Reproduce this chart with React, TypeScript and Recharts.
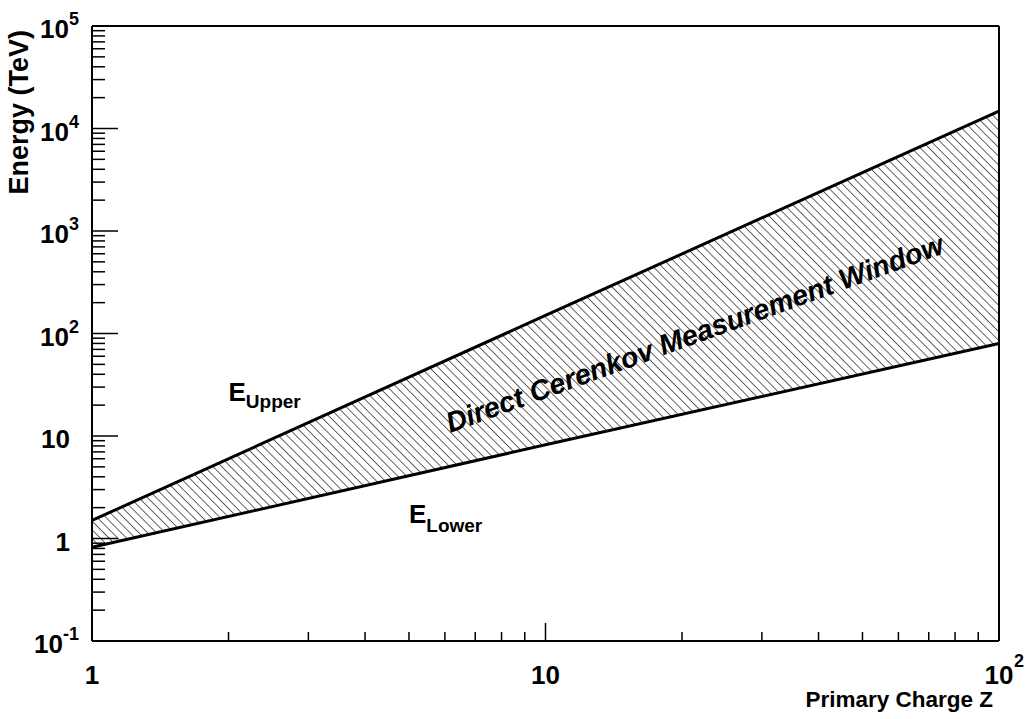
import { ComposedChart, Area, Line, XAxis, YAxis, ReferenceDot } from 'recharts'

// primary charge Z and the two energy limits (TeV)
const charge = [1, 10, 100]
const eUpper = [1.5, 150, 14800]
const eLower = [0.82, 8.2, 80]

const xMajor = [1, 10, 100]
const xMinor = [2, 3, 4, 5, 6, 7, 8, 9, 20, 30, 40, 50, 60, 70, 80, 90]
const xLabels = ['1', '10', '10^2']

const yMajor = [0.1, 1, 10, 100, 1000, 10000, 100000]
const yMinor = [
  0.2, 0.3, 0.4, 0.5, 0.6, 0.7, 0.8, 0.9,
  2, 3, 4, 5, 6, 7, 8, 9,
  20, 30, 40, 50, 60, 70, 80, 90,
  200, 300, 400, 500, 600, 700, 800, 900,
  2000, 3000, 4000, 5000, 6000, 7000, 8000, 9000,
  20000, 30000, 40000, 50000, 60000, 70000, 80000, 90000,
]
const yLabels = ['10^-1', '1', '10', '10^2', '10^3', '10^4', '10^5']

const data = charge.map((z, i) => ({
  z,
  upper: eUpper[i],
  lower: eLower[i],
  band: [eLower[i], eUpper[i]],
}))

const FONT = '"Liberation Sans", Arial, Helvetica, sans-serif'
const W = 1029
const H = 719

function XLabel({ x, y, text }: { x: number; y: number; text: string }) {
  const [base, exp] = text.split('^')
  return (
    <g fontFamily={FONT} fontWeight="bold" fill="#000">
      <text x={x} y={y} textAnchor="middle" fontSize={26}>{base}</text>
      {exp && <text x={x + 15} y={y - 17} fontSize={18}>{exp}</text>}
    </g>
  )
}

function YLabel({ x, y, text }: { x: number; y: number; text: string }) {
  const [base, exp] = text.split('^')
  if (!exp) {
    return (
      <text x={x - 22} y={y + 12} textAnchor="end" fontFamily={FONT} fontWeight="bold" fontSize={26} fill="#000">
        {base}
      </text>
    )
  }
  return (
    <text x={x - 13} y={y + 12} textAnchor="end" fontFamily={FONT} fontWeight="bold" fontSize={26} fill="#000">
      <tspan>{base}</tspan>
      <tspan dy={-13} fontSize={18}>{exp}</tspan>
    </text>
  )
}

const tickStroke = { stroke: '#000', strokeWidth: 1.5 }

function BottomTick({ x, y, payload }: any) {
  const i = xMajor.indexOf(payload.value)
  return (
    <g>
      <line x1={x} x2={x} y1={y} y2={y - (i >= 0 ? 18 : 9)} {...tickStroke} />
      {i >= 0 && <XLabel x={x} y={y + 43} text={xLabels[i]} />}
    </g>
  )
}

function TopTick({ x, y, payload }: any) {
  const major = xMajor.includes(payload.value)
  return <line x1={x} x2={x} y1={y} y2={y + (major ? 18 : 9)} {...tickStroke} />
}

function LeftTick({ x, y, payload }: any) {
  const i = yMajor.indexOf(payload.value)
  return (
    <g>
      <line x1={x} x2={x + (i >= 0 ? 26 : 13)} y1={y} y2={y} {...tickStroke} />
      {i >= 0 && <YLabel x={x} y={y} text={yLabels[i]} />}
    </g>
  )
}

function RightTick({ x, y, payload }: any) {
  const major = yMajor.includes(payload.value)
  return <line x1={x} x2={x - (major ? 26 : 13)} y1={y} y2={y} {...tickStroke} />
}

const frame = { stroke: '#000', strokeWidth: 2 }

export default function App() {
  return (
    <div style={{ position: 'absolute', left: 0, top: 0, width: W, height: H, background: '#fff' }}>
      <ComposedChart width={W} height={H} data={data} margin={{ top: 25, right: 29, bottom: 77, left: 91 }}>
        <defs>
          <pattern id="hatch" patternUnits="userSpaceOnUse" width={6.2} height={6.2} patternTransform="rotate(-45)">
            <line x1={0} y1={0} x2={0} y2={6.2} stroke="#000" strokeWidth={1.2} />
          </pattern>
        </defs>
        <XAxis
          xAxisId="b"
          dataKey="z"
          type="number"
          scale="log"
          domain={[1, 100]}
          ticks={[...xMajor, ...xMinor]}
          interval={0}
          height={1}
          tickSize={0}
          tickMargin={0}
          tickLine={false}
          axisLine={frame}
          tick={BottomTick}
        />
        <XAxis
          xAxisId="t"
          orientation="top"
          type="number"
          scale="log"
          domain={[1, 100]}
          ticks={[...xMajor, ...xMinor]}
          interval={0}
          height={1}
          tickSize={0}
          tickMargin={0}
          tickLine={false}
          axisLine={frame}
          tick={TopTick}
        />
        <YAxis
          yAxisId="l"
          type="number"
          scale="log"
          domain={[0.1, 100000]}
          ticks={[...yMajor, ...yMinor]}
          interval={0}
          width={1}
          tickSize={0}
          tickMargin={0}
          tickLine={false}
          axisLine={frame}
          tick={LeftTick}
        />
        <YAxis
          yAxisId="r"
          orientation="right"
          type="number"
          scale="log"
          domain={[0.1, 100000]}
          ticks={[...yMajor, ...yMinor]}
          interval={0}
          width={1}
          tickSize={0}
          tickMargin={0}
          tickLine={false}
          axisLine={frame}
          tick={RightTick}
        />
        <Area
          xAxisId="b"
          yAxisId="l"
          dataKey="band"
          type="linear"
          fill="url(#hatch)"
          fillOpacity={1}
          stroke="none"
          isAnimationActive={false}
        />
        <Line xAxisId="b" yAxisId="l" dataKey="upper" type="linear" stroke="#000" strokeWidth={3} dot={false} isAnimationActive={false} />
        <Line xAxisId="b" yAxisId="l" dataKey="lower" type="linear" stroke="#000" strokeWidth={3} dot={false} isAnimationActive={false} />
        <ReferenceDot
          xAxisId="b"
          yAxisId="l"
          x={2}
          y={22}
          r={0}
          ifOverflow="visible"
          shape={(p: any) => (
            <text x={p.cx} y={p.cy} fontFamily={FONT} fontWeight="bold" fontSize={26} fill="#000">
              <tspan>E</tspan>
              <tspan dy={7} fontSize={19}>Upper</tspan>
            </text>
          )}
        />
        <ReferenceDot
          xAxisId="b"
          yAxisId="l"
          x={5}
          y={1.42}
          r={0}
          ifOverflow="visible"
          shape={(p: any) => (
            <text x={p.cx} y={p.cy} fontFamily={FONT} fontWeight="bold" fontSize={26} fill="#000">
              <tspan>E</tspan>
              <tspan dy={9} fontSize={19}>Lower</tspan>
            </text>
          )}
        />
        <ReferenceDot
          xAxisId="b"
          yAxisId="l"
          x={21.3}
          y={100}
          r={0}
          ifOverflow="visible"
          shape={(p: any) => (
            <text
              x={p.cx}
              y={p.cy}
              transform={`rotate(-20 ${p.cx} ${p.cy})`}
              textAnchor="middle"
              dominantBaseline="central"
              fontFamily={FONT}
              fontWeight="bold"
              fontStyle="italic"
              fontSize={28.5}
              fill="#000"
            >
              Direct Cerenkov Measurement Window
            </text>
          )}
        />
      </ComposedChart>
      <svg width={W} height={H} style={{ position: 'absolute', left: 0, top: 0, pointerEvents: 'none' }}>
        <text
          transform="translate(28 30) rotate(-90)"
          textAnchor="end"
          fontFamily={FONT}
          fontWeight="bold"
          fontSize={27}
          fill="#000"
        >
          Energy (TeV)
        </text>
        <text x={993} y={707} textAnchor="end" fontFamily={FONT} fontWeight="bold" fontSize={22.5} fill="#000">
          Primary Charge Z
        </text>
      </svg>
    </div>
  )
}
